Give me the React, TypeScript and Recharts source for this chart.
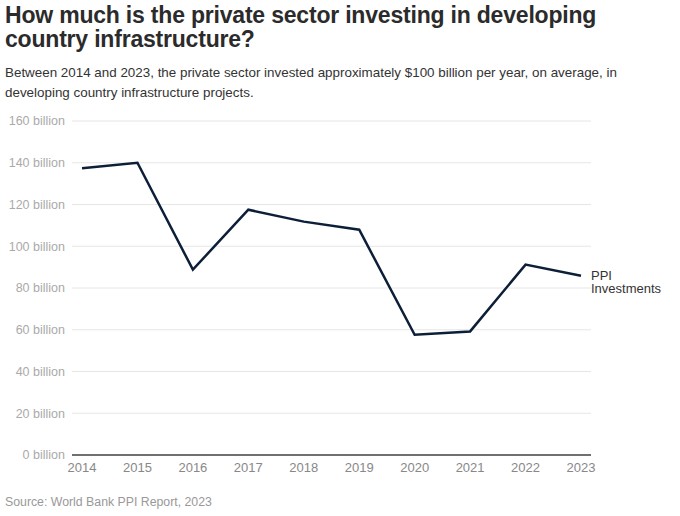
import { LineChart, Line, XAxis, YAxis, CartesianGrid, ReferenceLine } from "recharts";

// PPI investments, billions USD
const years = ["2014", "2015", "2016", "2017", "2018", "2019", "2020", "2021", "2022", "2023"];
const investments = [137.4, 140, 88.8, 117.5, 111.8, 107.9, 57.6, 59.2, 91.2, 85.9];
const yTicks = [0, 20, 40, 60, 80, 100, 120, 140, 160];

const SERIES_NAME = ["PPI", "Investments"];
const FONT = '"Liberation Sans", Arial, Helvetica, sans-serif';

const data = years.map((year, i) => ({ year, value: investments[i] }));

// draws the series name next to the last point only
const EndLabel = (props: any) => {
  const { x, y, index } = props;
  if (index !== data.length - 1) return null;
  return (
    <text x={x + 10} y={y} fill="#333" fontSize={13} fontFamily={FONT}>
      <tspan x={x + 10} dy="0.3em">{SERIES_NAME[0]}</tspan>
      <tspan x={x + 10} dy="1.05em">{SERIES_NAME[1]}</tspan>
    </text>
  );
};

export default function App() {
  return (
    <div
      style={{
        position: "absolute",
        top: 0,
        left: 0,
        width: 680,
        height: 516,
        background: "#fff",
        fontFamily: FONT,
        overflow: "hidden",
      }}
    >
      <div
        style={{
          position: "absolute",
          left: 5,
          top: 3,
          fontSize: 23,
          fontWeight: 700,
          lineHeight: "24px",
          color: "#2b2b2b",
          letterSpacing: -0.2,
          whiteSpace: "nowrap",
        }}
      >
        How much is the private sector investing in developing
        <br />
        country infrastructure?
      </div>
      <div
        style={{
          position: "absolute",
          left: 5,
          top: 63,
          fontSize: 13.4,
          lineHeight: "20px",
          color: "#333",
          whiteSpace: "nowrap",
        }}
      >
        Between 2014 and 2023, the private sector invested approximately $100 billion per year, on average, in
        <br />
        developing country infrastructure projects.
      </div>

      <div style={{ position: "absolute", left: 0, top: 105 }}>
        <LineChart
          width={680}
          height={400}
          data={data}
          margin={{ top: 16, right: 89, bottom: 20, left: 0 }}
        >
          <CartesianGrid vertical={false} stroke="#e6e6e6" strokeWidth={1} />
          <XAxis
            dataKey="year"
            axisLine={false}
            tickLine={false}
            tickSize={0}
            tickMargin={8}
            height={30}
            padding={{ left: 10, right: 10 }}
            tick={{ fill: "#888", fontSize: 13, fontFamily: FONT }}
            interval={0}
          />
          <YAxis
            domain={[0, 160]}
            ticks={yTicks}
            axisLine={false}
            tickLine={false}
            tickSize={0}
            tickMargin={7}
            width={72}
            tick={{ fill: "#aaa", fontSize: 12.5, fontFamily: FONT }}
            tickFormatter={(v) => `${v} billion`}
          />
          <ReferenceLine y={0} stroke="#444" strokeWidth={1.5} />
          <Line
            type="linear"
            dataKey="value"
            stroke="#0d1f38"
            strokeWidth={2.5}
            dot={false}
            isAnimationActive={false}
            label={<EndLabel />}
          />
        </LineChart>
      </div>

      <div
        style={{
          position: "absolute",
          left: 5,
          top: 495,
          fontSize: 12.3,
          color: "#999",
          whiteSpace: "nowrap",
        }}
      >
        Source: World Bank PPI Report, 2023
      </div>
    </div>
  );
}
